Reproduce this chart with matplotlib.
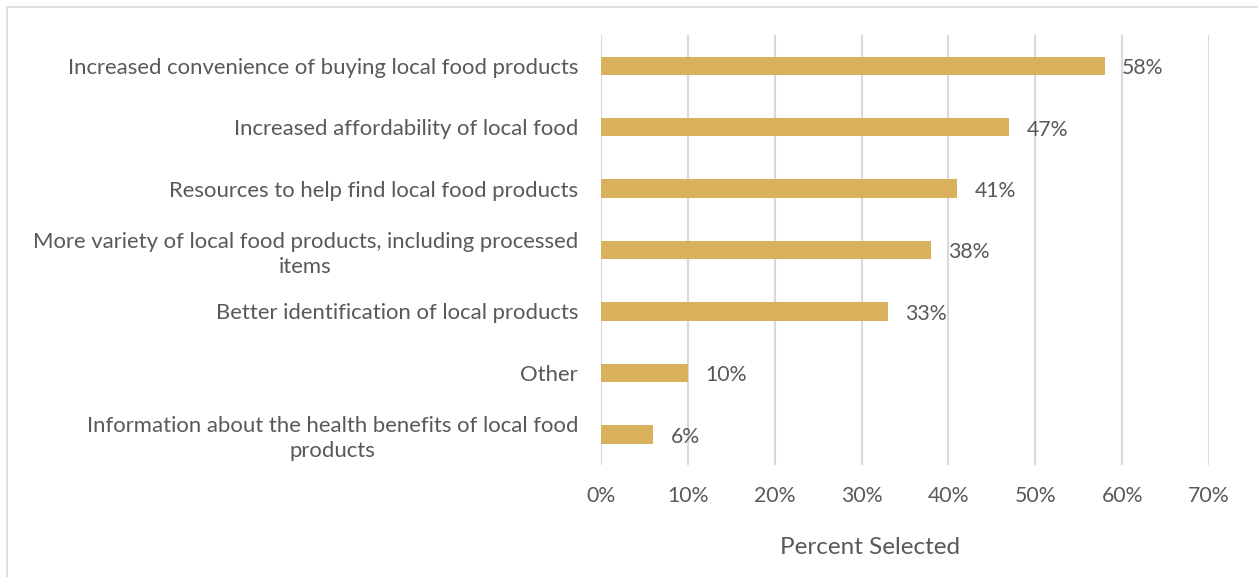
import matplotlib
matplotlib.use("Agg")
import matplotlib.pyplot as plt
from matplotlib.patches import Rectangle
from matplotlib.ticker import FuncFormatter

categories = [
    "Increased convenience of buying local food products",
    "Increased affordability of local food",
    "Resources to help find local food products",
    "More variety of local food products, including processed\nitems",
    "Better identification of local products",
    "Other",
    "Information about the health benefits of local food\nproducts",
]
values = [58, 47, 41, 38, 33, 10, 6]
value_labels = ["58%", "47%", "41%", "38%", "33%", "10%", "6%"]
x_ticks = [0, 10, 20, 30, 40, 50, 60, 70]

BAR_COLOR = "#D9B15D"
TEXT_COLOR = "#595959"
GRID_COLOR = "#D9D9D9"

plt.rcParams["font.family"] = ["Lato", "DejaVu Sans"]

W, H = 1258, 577
fig = plt.figure(figsize=(W / 100, H / 100), dpi=100)
fig.patch.set_facecolor("white")

# outer chart frame
fig.patches.append(Rectangle((7 / W, -0.01), 1.02, 1 - 7 / H + 0.01,
                             transform=fig.transFigure, fill=False,
                             edgecolor=GRID_COLOR, linewidth=1.2))

ax = fig.add_axes([601 / W, 1 - 465 / H, (1209 - 601) / W, (465 - 35) / H])
pos = list(range(len(categories)))
ax.barh(pos, values, height=0.3, color=BAR_COLOR, zorder=3)

for p, v, lab in zip(pos, values, value_labels):
    ax.text(v + 2.0, p + 0.04, lab, va="center", ha="left", fontsize=15.3,
            color=TEXT_COLOR)

ax.set_xlim(0, 70)
ax.set_ylim(len(categories) - 0.5, -0.5)
ax.set_xticks(x_ticks)
ax.xaxis.set_major_formatter(FuncFormatter(lambda x, _: f"{x:.0f}%"))
ax.set_yticks(pos)
ax.set_yticklabels(categories, multialignment="center", linespacing=1.3)
ax.tick_params(axis="y", length=0, pad=16.5, labelsize=15.9, labelcolor=TEXT_COLOR)
ax.tick_params(axis="x", length=0, pad=15, labelsize=15.3, labelcolor=TEXT_COLOR)
ax.grid(axis="x", color=GRID_COLOR, linewidth=1.5, zorder=0)
for s in ax.spines.values():
    s.set_visible(False)
ax.set_xlabel("Percent Selected", fontsize=17.5, color=TEXT_COLOR)
ax.xaxis.set_label_coords((870 - 601) / (1209 - 601), -(547 - 465) / (465 - 35))
ax.xaxis.label.set_va("center")

fig.savefig("out.png", dpi=100, facecolor="white")
